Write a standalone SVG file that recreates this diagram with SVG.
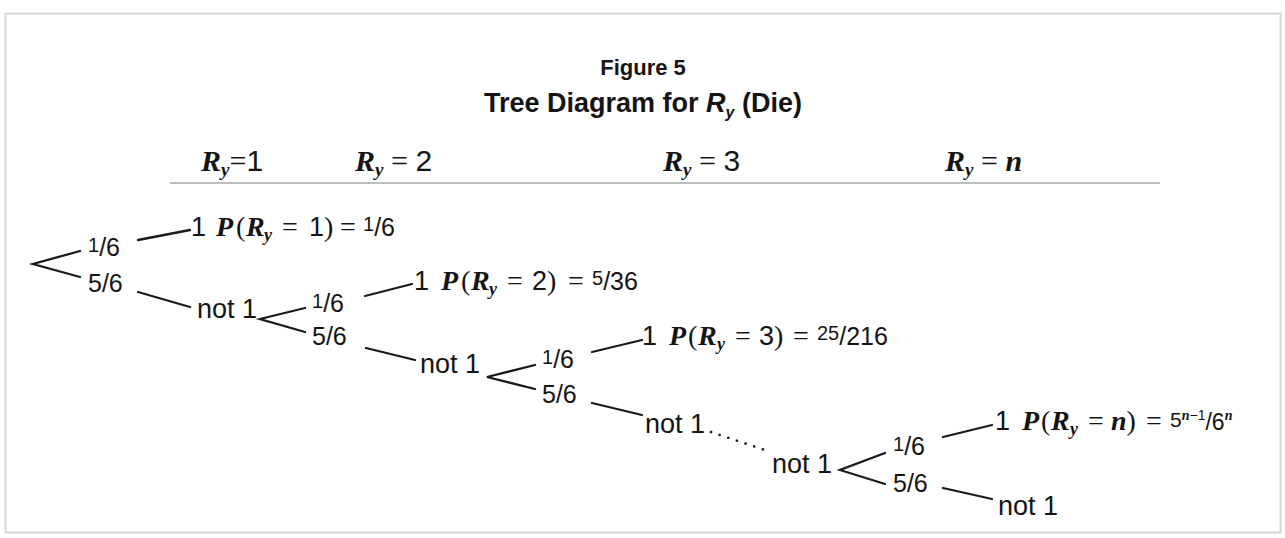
<svg xmlns="http://www.w3.org/2000/svg" width="1285" height="538" viewBox="0 0 1285 538">
<style>
.s{font-family:"Liberation Sans",Arial,sans-serif;fill:#141414}
.m{font-family:"Liberation Serif","Times New Roman",serif;fill:#141414}
.bi{font-weight:bold;font-style:italic}
.lb{font-size:27px}
.fr{font-size:25px}
.ln{stroke:#1a1a1a;stroke-width:2.3;fill:none;stroke-linecap:round;stroke-linejoin:miter}
.dt{stroke:#1a1a1a;stroke-width:2.6;fill:none;stroke-linecap:round;stroke-dasharray:0.1 9}
</style>
<rect x="0" y="0" width="1285" height="538" fill="#ffffff"/>
<rect x="5.5" y="13.5" width="1275" height="519" fill="none" stroke="#d6d6d6" stroke-width="2"/>

<g id="title">
<text x="643" y="75" text-anchor="middle" class="s" font-weight="bold" font-size="22">Figure 5</text>
<text x="643" y="112" text-anchor="middle" class="s" font-weight="bold" font-size="27">Tree Diagram for <tspan font-style="italic">R</tspan><tspan font-style="italic" font-size="16" dy="6">y</tspan><tspan dy="-6"> (Die)</tspan></text>
</g>

<g id="header">
<line x1="170" y1="183" x2="1160" y2="183" stroke="#a8a8a8" stroke-width="1.5"/>
<text x="201" y="171" font-size="30"><tspan class="m bi">R</tspan><tspan class="m bi" font-size="19" dy="5">y</tspan><tspan class="m" dy="-5">=</tspan><tspan class="s">1</tspan></text>
<text x="355" y="171" font-size="30"><tspan class="m bi">R</tspan><tspan class="m bi" font-size="19" dy="5">y</tspan><tspan class="m" dy="-5"> = </tspan><tspan class="s">2</tspan></text>
<text x="663" y="171" font-size="30"><tspan class="m bi">R</tspan><tspan class="m bi" font-size="19" dy="5">y</tspan><tspan class="m" dy="-5"> = </tspan><tspan class="s">3</tspan></text>
<text x="945" y="171" font-size="30"><tspan class="m bi">R</tspan><tspan class="m bi" font-size="19" dy="5">y</tspan><tspan class="m" dy="-5"> = </tspan><tspan class="m bi">n</tspan></text>
</g>

<g id="connectors">
<polyline class="ln" points="80,251 33,264 80,277"/>
<line class="ln" x1="138" y1="240" x2="190" y2="230"/>
<line class="ln" x1="138" y1="292" x2="190" y2="307"/>
<polyline class="ln" points="305,308 260,319 305,332"/>
<line class="ln" x1="365" y1="296" x2="412" y2="284"/>
<line class="ln" x1="366" y1="348" x2="415" y2="360"/>
<polyline class="ln" points="535,365 487,377 535,389"/>
<line class="ln" x1="592" y1="352" x2="642" y2="340"/>
<line class="ln" x1="592" y1="403" x2="642" y2="415"/>
<line class="dt" x1="711" y1="432" x2="768" y2="451"/>
<polyline class="ln" points="885,453 840,470 885,484"/>
<line class="ln" x1="943" y1="437" x2="992" y2="425"/>
<line class="ln" x1="943" y1="488" x2="992" y2="499"/>
</g>

<g id="p-root-1"><text x="88" y="256" class="s fr"><tspan font-size="20" dy="-4">1</tspan><tspan dy="4">/6</tspan></text></g>
<g id="p-root-5"><text x="88" y="292" class="s fr">5/6</text></g>

<g id="res-1"><text y="236" font-size="28"><tspan x="191" class="s" font-size="27">1</tspan><tspan x="216" class="m bi">P</tspan><tspan x="236" class="m">(</tspan><tspan x="246" class="m bi">R</tspan><tspan x="264" class="m bi" font-size="18" dy="5">y</tspan><tspan x="282" class="m" dy="-5">=</tspan><tspan x="309" class="s" font-size="27">1</tspan><tspan class="m">)</tspan><tspan x="340" class="m">=</tspan><tspan x="363" class="s" font-size="20" dy="-5">1</tspan><tspan class="s" font-size="25" dy="5">/6</tspan></text></g>

<g id="not1-a"><text x="197" y="318" class="s lb">not 1</text></g>
<g id="p-b-1"><text x="312" y="312" class="s fr"><tspan font-size="20" dy="-4">1</tspan><tspan dy="4">/6</tspan></text></g>
<g id="p-b-5"><text x="312" y="345" class="s fr">5/6</text></g>

<g id="res-2"><text y="290" font-size="28"><tspan x="414" class="s" font-size="27">1</tspan><tspan x="441" class="m bi">P</tspan><tspan x="461" class="m">(</tspan><tspan x="471" class="m bi">R</tspan><tspan x="489" class="m bi" font-size="18" dy="5">y</tspan><tspan x="507" class="m" dy="-5">=</tspan><tspan x="532" class="s" font-size="27">2</tspan><tspan class="m">)</tspan><tspan x="568" class="m">=</tspan><tspan x="592" class="s" font-size="20" dy="-5">5</tspan><tspan class="s" font-size="25" dy="5">/36</tspan></text></g>

<g id="not1-b"><text x="420" y="373" class="s lb">not 1</text></g>
<g id="p-c-1"><text x="542" y="368" class="s fr"><tspan font-size="20" dy="-4">1</tspan><tspan dy="4">/6</tspan></text></g>
<g id="p-c-5"><text x="542" y="403" class="s fr">5/6</text></g>

<g id="res-3"><text y="345" font-size="28"><tspan x="642" class="s" font-size="27">1</tspan><tspan x="669" class="m bi">P</tspan><tspan x="688" class="m">(</tspan><tspan x="698" class="m bi">R</tspan><tspan x="717" class="m bi" font-size="18" dy="5">y</tspan><tspan x="735" class="m" dy="-5">=</tspan><tspan x="759" class="s" font-size="27">3</tspan><tspan class="m">)</tspan><tspan x="793" class="m">=</tspan><tspan x="817" class="s" font-size="20" dy="-5">25</tspan><tspan class="s" font-size="25" dy="5">/216</tspan></text></g>

<g id="not1-c"><text x="645" y="433" class="s lb">not 1</text></g>
<g id="not1-d"><text x="772" y="473" class="s lb">not 1</text></g>
<g id="p-d-1"><text x="893" y="455" class="s fr"><tspan font-size="20" dy="-4">1</tspan><tspan dy="4">/6</tspan></text></g>
<g id="p-d-5"><text x="893" y="492" class="s fr">5/6</text></g>

<g id="res-n"><text y="430" font-size="28"><tspan x="995" class="s" font-size="27">1</tspan><tspan x="1022" class="m bi">P</tspan><tspan x="1041" class="m">(</tspan><tspan x="1051" class="m bi">R</tspan><tspan x="1070" class="m bi" font-size="18" dy="5">y</tspan><tspan x="1088" class="m" dy="-5">=</tspan><tspan x="1111" class="m bi">n</tspan><tspan class="m">)</tspan><tspan x="1146" class="m">=</tspan><tspan x="1170" class="s" font-size="21" dy="-3">5</tspan><tspan class="m bi" font-size="14" dy="-7">n</tspan><tspan class="s" font-size="14">−1</tspan><tspan class="s" font-size="23" dy="10">/6</tspan><tspan class="m bi" font-size="14" dy="-10">n</tspan></text></g>

<g id="not1-e"><text x="998" y="515" class="s lb">not 1</text></g>
</svg>
